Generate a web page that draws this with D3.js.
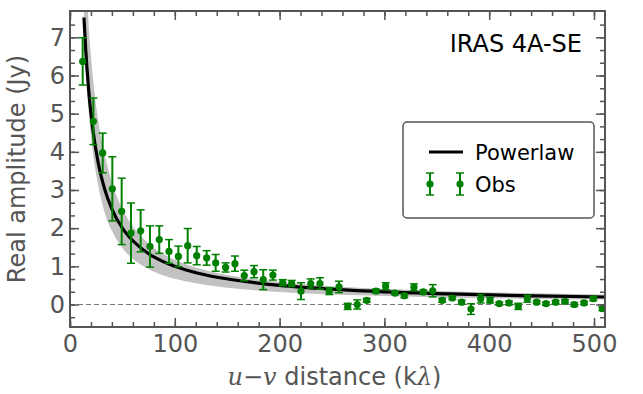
<!DOCTYPE html>
<html>
<head>
<meta charset="utf-8">
<script src="https://cdn.jsdelivr.net/npm/d3@7"></script>
<style>
  body { margin: 0; background: #fff; }
  #chart { width: 643px; height: 394px; }
  text { font-family: "DejaVu Sans", sans-serif; }
</style>
</head>
<body>
<div id="chart"></div>
<script>

// observed visibilities (u-v distance in k-lambda, real amplitude in Jy)
var uvDist = [12.1, 22.3, 31.2, 40.4, 49.3, 58.2, 67.4, 76.3, 85.2, 94.5,
    103.4, 112.3, 120.9, 130.4, 139.0, 148.5, 157.4, 166.3, 175.6, 184.4,
    193.6, 203.0, 211.5, 220.4, 229.7, 238.5, 247.4, 256.7, 265.0, 274.1,
    283.1, 292.0, 301.2, 310.1, 319.0, 328.2, 337.1, 346.1, 355.2, 364.8,
    373.7, 382.6, 391.9, 400.8, 409.6, 418.9, 427.8, 436.4, 445.3, 454.2,
    463.4, 472.3, 481.2, 490.5, 499.3, 508.0];
var ampVals = [6.37, 4.80, 3.97, 3.03, 2.44, 1.87, 1.93, 1.52, 1.70, 1.39,
    1.26, 1.54, 1.28, 1.22, 1.09, 0.97, 1.07, 0.76, 0.86, 0.65,
    0.77, 0.57, 0.55, 0.35, 0.55, 0.55, 0.35, 0.46, -0.05, 0.00,
    0.11, 0.35, 0.48, 0.30, 0.23, 0.45, 0.33, 0.36, 0.11, 0.17,
    0.06, -0.12, 0.15, 0.11, 0.02, 0.04, -0.05, 0.15, 0.06, 0.02,
    0.06, 0.08, 0.00, 0.04, 0.15, -0.11];
var ampErr = [0.62, 0.61, 0.52, 0.84, 0.87, 0.79, 0.55, 0.54, 0.36, 0.31,
    0.27, 0.45, 0.24, 0.19, 0.22, 0.12, 0.20, 0.14, 0.16, 0.26,
    0.13, 0.08, 0.08, 0.22, 0.12, 0.15, 0.09, 0.15, 0.08, 0.12,
    0.05, 0.05, 0.09, 0.04, 0.05, 0.09, 0.05, 0.16, 0.05, 0.04,
    0.05, 0.14, 0.11, 0.07, 0.04, 0.05, 0.08, 0.09, 0.04, 0.04,
    0.04, 0.04, 0.05, 0.04, 0.05, 0.05];

// powerlaw model and its uncertainty band
var modelU = [13.3, 15, 18, 22, 27, 33, 40, 50, 60, 75,
    90, 110, 135, 165, 200, 250, 300, 360, 430, 510];
var modelV = [7.52, 6.67, 5.56, 4.55, 3.70, 3.03, 2.50, 2.00, 1.67, 1.33,
    1.11, 0.91, 0.74, 0.61, 0.50, 0.40, 0.33, 0.28, 0.23, 0.196];
var bandHi = [7.90, 8.67, 7.23, 5.92, 4.81, 3.94, 3.20, 2.50, 2.05, 1.60,
    1.31, 1.06, 0.86, 0.71, 0.59, 0.48, 0.41, 0.35, 0.30, 0.26];
var bandLo = [7.14, 6.14, 5.00, 3.96, 3.11, 2.42, 1.93, 1.48, 1.20, 0.93,
    0.75, 0.61, 0.49, 0.40, 0.33, 0.26, 0.22, 0.18, 0.15, 0.13];

var xTicks = [0, 100, 200, 300, 400, 500];
var yTicks = [0, 1, 2, 3, 4, 5, 6, 7];
var sourceName = "IRAS 4A-SE";


/*
 * AmpVis - real amplitude vs u-v distance
 */
AmpVis = function(_parentElement) {
    this.parentElement = _parentElement;
    this.initVis();
}

AmpVis.prototype.initVis = function() {
    var vis = this;

    vis.margin = { top: 11, right: 38, bottom: 67, left: 70 };
    vis.width = 643 - vis.margin.left - vis.margin.right;
    vis.height = 394 - vis.margin.top - vis.margin.bottom;

    vis.svg = d3.select("#" + vis.parentElement).append("svg")
            .attr("width", 643)
            .attr("height", 394)
        .append("g")
            .attr("transform", "translate(" + vis.margin.left + "," + vis.margin.top + ")");

    vis.svg.append("defs").append("clipPath")
        .attr("id", "clip")
        .append("rect")
        .attr("width", vis.width)
        .attr("height", vis.height);

    vis.x = d3.scaleLinear().domain([0, 510.5]).range([0, vis.width]);
    vis.y = d3.scaleLinear().domain([-0.59, 7.69]).range([vis.height, 0]);

    vis.wrangleData();
}

AmpVis.prototype.wrangleData = function() {
    var vis = this;

    vis.obs = uvDist.map(function(u, i) {
        return { u: u, v: ampVals[i], e: ampErr[i] };
    });
    vis.model = modelU.map(function(u, i) {
        return { u: u, v: modelV[i], lo: bandLo[i], hi: bandHi[i] };
    });

    vis.updateVis();
}

AmpVis.prototype.updateVis = function() {
    var vis = this;
    var axisCol = "#555555";

    var plot = vis.svg.append("g").attr("clip-path", "url(#clip)");

    // uncertainty band
    var band = d3.area()
        .curve(d3.curveMonotoneX)
        .x(function(d) { return vis.x(d.u); })
        .y0(function(d) { return vis.y(d.lo); })
        .y1(function(d) { return vis.y(d.hi); });
    plot.append("path")
        .datum(vis.model)
        .attr("d", band)
        .attr("fill", "#c2c2c2");

    // zero line
    plot.append("line")
        .attr("x1", 0).attr("x2", vis.width)
        .attr("y1", vis.y(0)).attr("y2", vis.y(0))
        .attr("stroke", "#777")
        .attr("stroke-width", 1.2)
        .attr("stroke-dasharray", "5,3");

    // powerlaw
    var line = d3.line()
        .curve(d3.curveMonotoneX)
        .x(function(d) { return vis.x(d.u); })
        .y(function(d) { return vis.y(d.v); });
    plot.append("path")
        .datum(vis.model)
        .attr("d", line)
        .attr("fill", "none")
        .attr("stroke", "#000")
        .attr("stroke-width", 3.2);

    // error bars + points
    var green = "#008000";
    var pts = plot.selectAll(".obs").data(vis.obs).enter().append("g").attr("class", "obs");
    pts.append("line")
        .attr("x1", function(d) { return vis.x(d.u); })
        .attr("x2", function(d) { return vis.x(d.u); })
        .attr("y1", function(d) { return vis.y(d.v - d.e); })
        .attr("y2", function(d) { return vis.y(d.v + d.e); })
        .attr("stroke", green).attr("stroke-width", 2);
    [-1, 1].forEach(function(s) {
        pts.append("line")
            .attr("x1", function(d) { return vis.x(d.u) - 4; })
            .attr("x2", function(d) { return vis.x(d.u) + 4; })
            .attr("y1", function(d) { return vis.y(d.v + s * d.e); })
            .attr("y2", function(d) { return vis.y(d.v + s * d.e); })
            .attr("stroke", green).attr("stroke-width", 1.5);
    });
    pts.append("circle")
        .attr("cx", function(d) { return vis.x(d.u); })
        .attr("cy", function(d) { return vis.y(d.v); })
        .attr("r", 3.6)
        .attr("fill", green);

    // ticks pointing inwards on all four sides
    var xMinor = d3.range(0, 511, 20);
    var yMinor = d3.range(-1, 24).map(function(k) { return k / 3; })
        .filter(function(v) { return v > -0.59 && v < 7.6; });

    var axes = [
        { gen: d3.axisBottom(vis.x), tr: "translate(0," + vis.height + ")" },
        { gen: d3.axisTop(vis.x), tr: "translate(0,0)" },
        { gen: d3.axisLeft(vis.y), tr: "translate(0,0)" },
        { gen: d3.axisRight(vis.y), tr: "translate(" + vis.width + ",0)" }
    ];
    axes.forEach(function(a, i) {
        var isX = i < 2;
        var minor = isX ? xMinor : yMinor;
        var gMin = vis.svg.append("g").attr("transform", a.tr)
            .call(a.gen.tickValues(minor).tickSize(-5).tickFormat(""));
        gMin.select(".domain").remove();
        gMin.selectAll("line").attr("stroke", axisCol).attr("stroke-width", 1.5);

        var major = isX ? xTicks : yTicks;
        var showLab = (i === 0 || i === 2);
        var gMaj = vis.svg.append("g").attr("transform", a.tr)
            .call(a.gen.tickValues(major).tickSize(-9).tickPadding(showLab ? (isX ? 8 : 5) : 0)
                .tickFormat(showLab ? d3.format("d") : ""));
        gMaj.select(".domain").remove();
        gMaj.selectAll("line").attr("stroke", axisCol).attr("stroke-width", 1.5);
        gMaj.selectAll("text")
            .attr("fill", axisCol)
            .style("font-size", "24px")
            .style("font-family", "DejaVu Sans");
    });

    // frame
    vis.svg.append("rect")
        .attr("width", vis.width).attr("height", vis.height)
        .attr("fill", "none")
        .attr("stroke", axisCol)
        .attr("stroke-width", 2);

    // axis titles
    vis.svg.append("text")
        .attr("transform", "translate(-45," + (vis.height / 2) + ") rotate(-90)")
        .attr("text-anchor", "middle")
        .attr("fill", axisCol)
        .style("font-size", "24px")
        .text("Real amplitude (Jy)");

    var xl = vis.svg.append("text")
        .attr("x", vis.width / 2 - 3)
        .attr("y", vis.height + 58)
        .attr("text-anchor", "middle")
        .attr("fill", axisCol)
        .style("font-size", "24px");
    xl.append("tspan").style("font-family", "DejaVu Serif").style("font-style", "italic").text("u");
    xl.append("tspan").text("\u2212");
    xl.append("tspan").style("font-family", "DejaVu Serif").style("font-style", "italic").text("v");
    xl.append("tspan").text(" distance (k");
    xl.append("tspan").style("font-family", "DejaVu Serif").style("font-style", "italic").text("\u03bb");
    xl.append("tspan").text(")");

    // source label
    vis.svg.append("text")
        .attr("x", 512)
        .attr("y", 41)
        .attr("text-anchor", "end")
        .attr("fill", "#000")
        .style("font-size", "24px")
        .text(sourceName);

    // legend
    var lg = vis.svg.append("g").attr("transform", "translate(333,111)");
    lg.append("rect")
        .attr("width", 191).attr("height", 96).attr("rx", 4)
        .attr("fill", "#fff")
        .attr("stroke", axisCol).attr("stroke-width", 1.5);
    lg.append("line")
        .attr("x1", 26).attr("x2", 60).attr("y1", 30).attr("y2", 30)
        .attr("stroke", "#000").attr("stroke-width", 3.2);
    lg.append("text").attr("x", 72).attr("y", 38).style("font-size", "21px").text("Powerlaw");
    [27, 57].forEach(function(cx) {
        lg.append("line").attr("x1", cx).attr("x2", cx).attr("y1", 51).attr("y2", 73)
            .attr("stroke", green).attr("stroke-width", 2);
        lg.append("line").attr("x1", cx - 4).attr("x2", cx + 4).attr("y1", 51).attr("y2", 51)
            .attr("stroke", green).attr("stroke-width", 1.5);
        lg.append("line").attr("x1", cx - 4).attr("x2", cx + 4).attr("y1", 73).attr("y2", 73)
            .attr("stroke", green).attr("stroke-width", 1.5);
        lg.append("circle").attr("cx", cx).attr("cy", 62).attr("r", 3.6).attr("fill", green);
    });
    lg.append("text").attr("x", 72).attr("y", 70).style("font-size", "21px").text("Obs");
}

new AmpVis("chart");
</script>
</body>
</html>
